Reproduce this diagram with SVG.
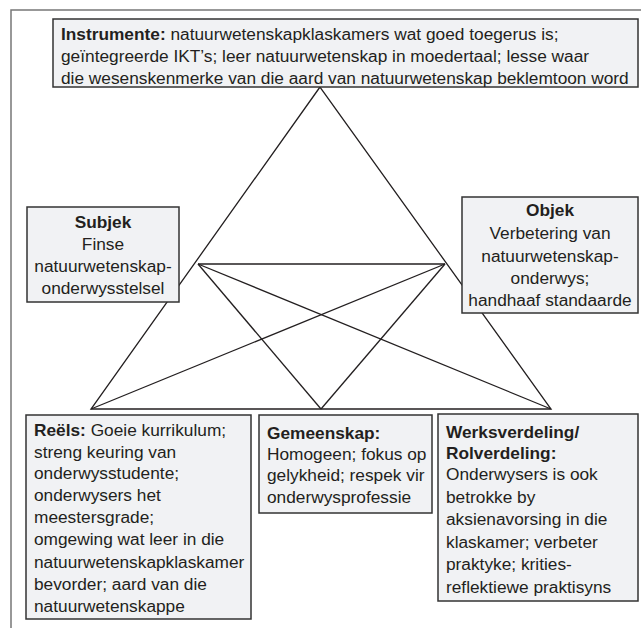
<svg xmlns="http://www.w3.org/2000/svg" width="641" height="628" viewBox="0 0 641 628">
<style>
.box{fill:#f1f2f4;stroke:#333;stroke-width:1.5}
.t{font-family:"Liberation Sans",Arial,sans-serif;font-size:17.3px;fill:#231f20}
.b{font-weight:bold}
.c{text-anchor:middle}
.ln{stroke:#231f20;stroke-width:1.3;fill:none}
</style>
<rect width="641" height="628" fill="#fff"/>
<path d="M11 628 V10 H641" fill="none" stroke="#777" stroke-width="1.5"/>
<g id="connectors" class="ln">
<path d="M320 87 L91 409 L551 409 Z"/>
<line x1="198" y1="264" x2="445" y2="264"/>
<line x1="198" y1="264" x2="551" y2="409"/>
<line x1="198" y1="264" x2="321" y2="409"/>
<line x1="445" y1="264" x2="91" y2="409"/>
<line x1="445" y1="264" x2="321" y2="409"/>
</g>
<g id="instrumente">
<rect class="box" x="53" y="19" width="585" height="68"/>
<text class="t" x="61" y="40"><tspan class="b">Instrumente:</tspan> natuurwetenskapklaskamers wat goed toegerus is;</text>
<text class="t" x="61" y="62">geïntegreerde IKT’s; leer natuurwetenskap in moedertaal; lesse waar</text>
<text class="t" x="61" y="84">die wesenskenmerke van die aard van natuurwetenskap beklemtoon word</text>
</g>
<g id="subjek">
<rect class="box" x="27" y="207" width="152" height="95"/>
<text class="t c b" x="103" y="228">Subjek</text>
<text class="t c" x="103" y="250">Finse</text>
<text class="t c" x="103" y="272">natuurwetenskap-</text>
<text class="t c" x="103" y="294">onderwysstelsel</text>
</g>
<g id="objek">
<rect class="box" x="462" y="197" width="176" height="116"/>
<text class="t c b" x="550" y="216">Objek</text>
<text class="t c" x="550" y="239">Verbetering van</text>
<text class="t c" x="550" y="262">natuurwetenskap-</text>
<text class="t c" x="550" y="284">onderwys;</text>
<text class="t c" x="550" y="306">handhaaf standaarde</text>
</g>
<g id="reels">
<rect class="box" x="26" y="415" width="225" height="204"/>
<text class="t" x="34" y="436"><tspan class="b">Reëls:</tspan> Goeie kurrikulum;</text>
<text class="t" x="34" y="458">streng keuring van</text>
<text class="t" x="34" y="479">onderwysstudente;</text>
<text class="t" x="34" y="501">onderwysers het</text>
<text class="t" x="34" y="523">meestersgrade;</text>
<text class="t" x="34" y="545">omgewing wat leer in die</text>
<text class="t" x="34" y="568">natuurwetenskapklaskamer</text>
<text class="t" x="34" y="590">bevorder; aard van die</text>
<text class="t" x="34" y="612">natuurwetenskappe</text>
</g>
<g id="gemeenskap">
<rect class="box" x="259" y="415" width="173" height="98"/>
<text class="t b" x="267" y="439">Gemeenskap:</text>
<text class="t" x="267" y="460">Homogeen; fokus op</text>
<text class="t" x="267" y="481">gelykheid; respek vir</text>
<text class="t" x="267" y="503">onderwysprofessie</text>
</g>
<g id="werksverdeling">
<rect class="box" x="438" y="414" width="200" height="187"/>
<text class="t b" x="446" y="438">Werksverdeling/</text>
<text class="t b" x="446" y="459">Rolverdeling:</text>
<text class="t" x="446" y="480">Onderwysers is ook</text>
<text class="t" x="446" y="503">betrokke by</text>
<text class="t" x="446" y="525">aksienavorsing in die</text>
<text class="t" x="446" y="548">klaskamer; verbeter</text>
<text class="t" x="446" y="570">praktyke; krities-</text>
<text class="t" x="446" y="593">reflektiewe praktisyns</text>
</g>
</svg>
